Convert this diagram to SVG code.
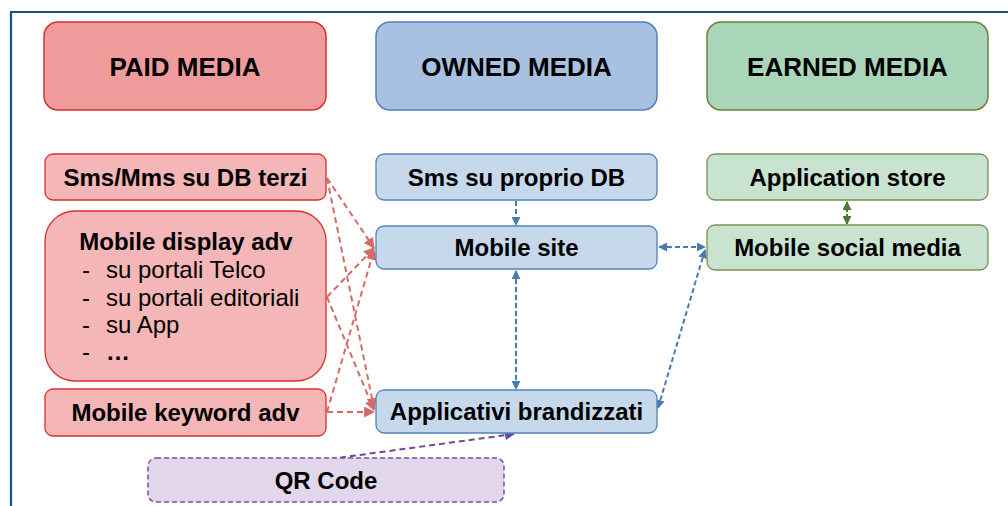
<svg xmlns="http://www.w3.org/2000/svg" width="1008" height="506" viewBox="0 0 1008 506">
<style>
text{font-family:"Liberation Sans",Arial,sans-serif;font-weight:bold;fill:#000;}
.h{font-size:26px;text-anchor:middle;}
.t{font-size:24px;text-anchor:middle;}
.li{font-size:24px;font-weight:normal;}
.paidH{fill:#f09b9b;stroke:#d9302e;stroke-width:1.5;}
.ownH{fill:#a8c1e0;stroke:#4f81bd;stroke-width:1.5;}
.earnH{fill:#a9d5b9;stroke:#6f7f3c;stroke-width:1.5;}
.paid{fill:#f4b6b6;stroke:#d9302e;stroke-width:1.3;}
.own{fill:#c5d8ec;stroke:#4f81bd;stroke-width:1.3;}
.earn{fill:#c9e3d1;stroke:#7a9150;stroke-width:1.3;}
.qr{fill:#e2d6ea;stroke:#7b4ea0;stroke-width:1.5;stroke-dasharray:5 3;}
.cr{fill:none;stroke:#d66a66;stroke-width:2;stroke-dasharray:6 4;}
.cb{fill:none;stroke:#4a7bb0;stroke-width:2;stroke-dasharray:5 3;}
.cg{fill:none;stroke:#4a7a2c;stroke-width:2;stroke-dasharray:4 2;}
.cp{fill:none;stroke:#6a4a9c;stroke-width:2;stroke-dasharray:6 4;}
</style>
<defs>
<marker id="ar" viewBox="0 0 10 10" refX="9" refY="5" markerWidth="5.5" markerHeight="5.5" orient="auto-start-reverse" markerUnits="strokeWidth"><path d="M0,0 L10,5 L0,10 z" fill="#d66a66"/></marker>
<marker id="ab" viewBox="0 0 10 10" refX="9" refY="5" markerWidth="4.5" markerHeight="4.5" orient="auto-start-reverse" markerUnits="strokeWidth"><path d="M0,0 L10,5 L0,10 z" fill="#4a7bb0"/></marker>
<marker id="ag" viewBox="0 0 10 10" refX="9" refY="5" markerWidth="4.5" markerHeight="4.5" orient="auto-start-reverse" markerUnits="strokeWidth"><path d="M0,0 L10,5 L0,10 z" fill="#4a7a2c"/></marker>
<marker id="ap" viewBox="0 0 10 10" refX="9" refY="5" markerWidth="5" markerHeight="5" orient="auto-start-reverse" markerUnits="strokeWidth"><path d="M0,0 L10,5 L0,10 z" fill="#6a4a9c"/></marker>
</defs>
<rect x="0" y="0" width="1008" height="506" fill="#fff"/>
<path d="M11,506 L11,12 L1008,12" fill="none" stroke="#1c4f87" stroke-width="2.2"/>

<g id="connectors">
<line class="cr" x1="327" y1="178" x2="374" y2="248" marker-end="url(#ar)"/>
<line class="cr" x1="327" y1="178" x2="374" y2="408" marker-end="url(#ar)"/>
<line class="cr" x1="327" y1="297" x2="374" y2="248" marker-end="url(#ar)"/>
<line class="cr" x1="327" y1="297" x2="374" y2="410" marker-end="url(#ar)"/>
<line class="cr" x1="327" y1="412" x2="374" y2="250" marker-end="url(#ar)"/>
<line class="cr" x1="327" y1="412" x2="374" y2="412" marker-end="url(#ar)"/>
<line class="cb" x1="516" y1="201" x2="516" y2="225" marker-end="url(#ab)"/>
<line class="cb" x1="516" y1="271" x2="516" y2="389" marker-start="url(#ab)" marker-end="url(#ab)"/>
<line class="cb" x1="659" y1="247" x2="705" y2="247" marker-start="url(#ab)" marker-end="url(#ab)"/>
<line class="cb" x1="658" y1="408" x2="705" y2="250" marker-start="url(#ab)" marker-end="url(#ab)"/>
<line class="cg" x1="847" y1="202" x2="847" y2="224" marker-start="url(#ag)" marker-end="url(#ag)"/>
<line class="cp" x1="330" y1="459" x2="514" y2="434" marker-end="url(#ap)"/>
</g>

<g id="paid-media"><rect class="paidH" x="44" y="22" width="282" height="88" rx="14"/><text class="h" x="185" y="76">PAID MEDIA</text></g>
<g id="owned-media"><rect class="ownH" x="376" y="22" width="281" height="88" rx="14"/><text class="h" x="516.5" y="76">OWNED MEDIA</text></g>
<g id="earned-media"><rect class="earnH" x="707" y="22" width="281" height="88" rx="14"/><text class="h" x="847.5" y="76">EARNED MEDIA</text></g>

<g id="sms-mms"><rect class="paid" x="45" y="154" width="281" height="46" rx="8"/><text class="t" x="185.5" y="185.5">Sms/Mms su DB terzi</text></g>
<g id="mobile-display"><rect class="paid" x="45" y="211" width="281" height="170" rx="30"/>
<text class="t" x="186" y="250">Mobile display adv</text>
<text class="li" x="82" y="278">-</text><text class="li" x="106" y="278">su portali Telco</text>
<text class="li" x="82" y="305.5">-</text><text class="li" x="106" y="305.5">su portali editoriali</text>
<text class="li" x="82" y="333">-</text><text class="li" x="106" y="333">su App</text>
<text class="li" x="82" y="360">-</text><text x="106" y="360" style="font-size:24px">…</text>
</g>
<g id="mobile-keyword"><rect class="paid" x="45" y="389" width="281" height="47" rx="8"/><text class="t" x="185.5" y="421">Mobile keyword adv</text></g>

<g id="sms-proprio"><rect class="own" x="376" y="154" width="281" height="46" rx="8"/><text class="t" x="516.5" y="185.5">Sms su proprio DB</text></g>
<g id="mobile-site"><rect class="own" x="376" y="226" width="281" height="43" rx="8"/><text class="t" x="516.5" y="256">Mobile site</text></g>
<g id="applicativi"><rect class="own" x="376" y="390" width="281" height="43" rx="8"/><text class="t" x="516.5" y="420">Applicativi brandizzati</text></g>

<g id="application-store"><rect class="earn" x="707" y="154" width="281" height="46" rx="8"/><text class="t" x="847.5" y="185.5">Application store</text></g>
<g id="mobile-social"><rect class="earn" x="707" y="225" width="281" height="45" rx="8"/><text class="t" x="847.5" y="256">Mobile social media</text></g>

<g id="qr-code"><rect class="qr" x="148" y="458" width="356" height="44" rx="8"/><text class="t" x="326" y="489">QR Code</text></g>
</svg>
